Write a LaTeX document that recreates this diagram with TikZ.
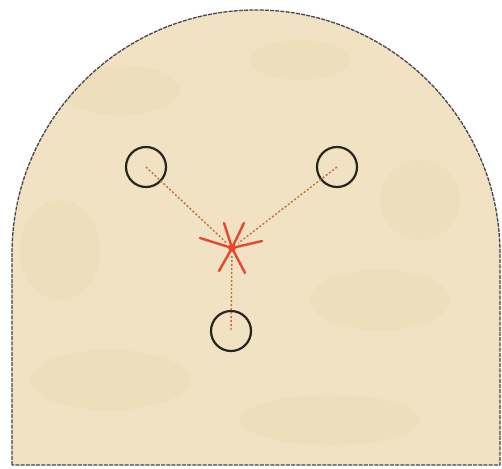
\documentclass[tikz,border=0pt]{standalone}
\usetikzlibrary{calc}
\definecolor{parch}{RGB}{240,226,194}
\definecolor{parchdark}{RGB}{228,208,166}
\definecolor{rim}{RGB}{70,70,70}
\definecolor{ringc}{RGB}{40,36,30}
\definecolor{dotc}{RGB}{196,110,60}
\definecolor{starc}{RGB}{232,70,45}
\tikzset{
  ring/.style={circle, draw=ringc, line width=2.2pt, minimum size=40pt, inner sep=0pt},
  link/.style={draw=dotc, line width=1.4pt, dash pattern=on 2pt off 2pt},
  ray/.style={draw=starc, line width=2.4pt, line cap=round},
  frame/.style={draw=rim, line width=1.3pt, dash pattern=on 4pt off 1.2pt}
}
\begin{document}
\begin{tikzpicture}[x=1pt,y=-1pt]
\useasboundingbox (0,0) rectangle (502,468);
\fill[white] (0,0) rectangle (502,468);
% parchment shape
\path[fill=parch] (12,465) -- (12,254) arc[start angle=180, end angle=360, radius=244] -- (500,465) -- cycle;
% faint blotches for texture
\begin{scope}
\clip (12,465) -- (12,254) arc[start angle=180, end angle=360, radius=244] -- (500,465) -- cycle;
\foreach \cx/\cy/\rx/\ry in {120/90/60/25, 380/300/70/30, 110/380/80/30, 330/420/90/25, 60/250/40/50, 300/60/50/20, 420/200/40/40}
  \fill[parchdark, opacity=0.18] (\cx,\cy) ellipse[x radius=\rx, y radius=\ry];
\end{scope}
\draw[frame] (12,465) -- (12,254) arc[start angle=180, end angle=360, radius=244] -- (500,465) -- cycle;
% nodes
\node[ring] (L) at (146,167) {};
\node[ring] (R) at (337,167) {};
\node[ring] (B) at (231,331) {};
\coordinate (S) at (232,248);
% connectors
\draw[link, shorten >=8pt] (L.center) -- (S);
\draw[link, shorten >=8pt] (R.center) -- (S);
\draw[link, shorten <=8pt] (S) -- (B.center);
% star
\foreach \dx/\dy in {-8/-25, 12/-25, -32/-10, 30/-7, -13/23, 13/25}
  \draw[ray] (S) -- ++(\dx,\dy);
\fill[starc] (S) circle[radius=3.8];
\end{tikzpicture}
\end{document}
